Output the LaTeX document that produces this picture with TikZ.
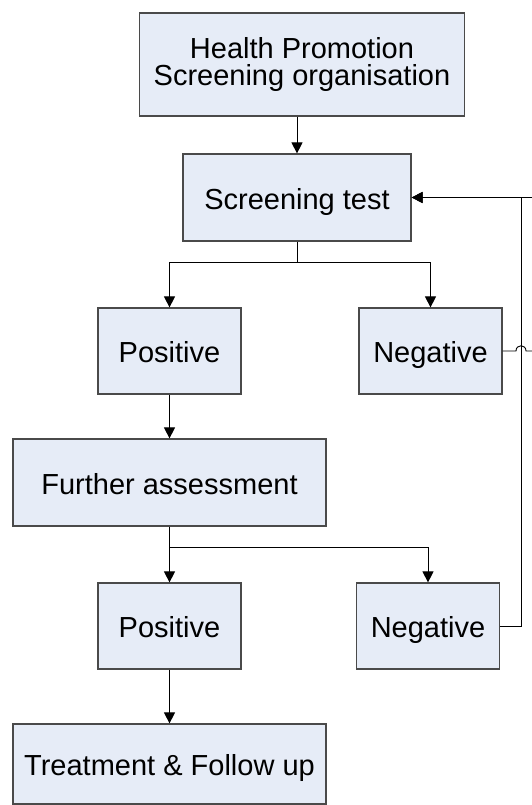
\documentclass[tikz,border=0pt]{standalone}
\usepackage{fontspec}
\setmainfont{Liberation Sans}
\usetikzlibrary{arrows.meta}
\definecolor{boxfill}{HTML}{E6ECF7}
\definecolor{boxline}{HTML}{4A4A4A}
\tikzset{
  block/.style={draw=boxline, line width=1.2pt, fill=boxfill, inner sep=0pt,
    font=\fontsize{29}{27}\selectfont, align=center},
  block line/.style={block, text height=23pt, text depth=0pt},
  link/.style={line width=0.9pt, -{Triangle[length=11pt,width=11pt]}},
}
\begin{document}
\begin{tikzpicture}[x=1pt,y=-1pt]
  \useasboundingbox (0,0) rectangle (531,805);
  % helper coordinates for the branches and the loop back
  \coordinate (split1) at (0,262);
  \coordinate (split2) at (0,547);
  \coordinate (loop) at (521,0);
  \coordinate (edge) at (536,0);
  \coordinate (hopa) at (516,351);
  \coordinate (hopb) at (526,351);
  % boxes
  \node[block, minimum width=325pt, minimum height=103pt] (health) at (302,64.5)
    {Health Promotion\\Screening organisation};
  \node[block line, minimum width=228pt, minimum height=87pt] (screen) at (297,197.5) {Screening test};
  \node[block line, minimum width=143pt, minimum height=86pt] (pos1) at (169.5,351) {Positive};
  \node[block line, minimum width=143pt, minimum height=86pt] (neg1) at (430.5,351) {Negative};
  \node[block line, minimum width=313pt, minimum height=87pt] (further) at (169.5,482.5) {Further assessment};
  \node[block line, minimum width=143pt, minimum height=86pt] (pos2) at (169.5,626) {Positive};
  \node[block line, minimum width=143pt, minimum height=86pt] (neg2) at (428,626) {Negative};
  \node[block line, minimum width=313pt, minimum height=80pt] (treat) at (169.5,764) {Treatment \& Follow up};
  % downward links
  \draw[link] (screen.north |- health.south) -- (screen.north);
  \draw[link] (screen.south) -- (screen.south |- split1) -| (pos1.north);
  \draw[link] (screen.south |- split1) -| (neg1.north);
  \draw[link] (pos1.south) -- (further.north);
  \draw[link] (further.south) -- (pos2.north);
  \draw[link] (further.south |- split2) -| (neg2.north);
  \draw[link] (pos2.south) -- (treat.north);
  % negative results go back to the screening test
  \draw[link] (neg2.east) -- (neg2.east -| loop) -- (loop |- screen.east) -- (screen.east);
  \draw[link] (neg1.east) -- (hopa) .. controls +(0,-7) and +(0,-7) .. (hopb)
    -- (neg1.east -| edge) -- (edge |- screen.east) -- (screen.east);
\end{tikzpicture}
\end{document}
